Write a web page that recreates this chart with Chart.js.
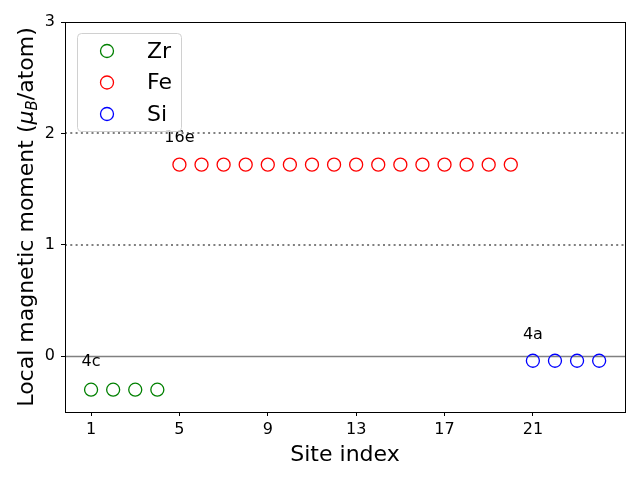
<!DOCTYPE html>
<html>
<head>
<meta charset="utf-8">
<script src="https://cdn.jsdelivr.net/npm/chart.js@4"></script>
<style>
  html, body { margin: 0; padding: 0; background: #fff; }
  #wrap { width: 640px; height: 480px; }
</style>
</head>
<body>
<div id="wrap"><canvas id="moments" width="640" height="480"></canvas></div>
<script>
'use strict';
//****************************
// DATA
//****************************
var zrSites = [1, 2, 3, 4];
var zrMoments = [-0.3, -0.3, -0.3, -0.3];
var feSites = [5, 6, 7, 8, 9, 10, 11, 12, 13, 14, 15, 16, 17, 18, 19, 20];
var feMoments = [1.72, 1.72, 1.72, 1.72, 1.72, 1.72, 1.72, 1.72, 1.72, 1.72, 1.72, 1.72, 1.72, 1.72, 1.72, 1.72];
var siSites = [21, 22, 23, 24];
var siMoments = [-0.04, -0.04, -0.04, -0.04];
var xTicks = [1, 5, 9, 13, 17, 21];
var yTicks = [0, 1, 2, 3];
var wyckoff = ['4c', '16e', '4a'];
var wyckoffX = [1, 5, 21];
var wyckoffY = [-0.05, 1.96, 0.19];
var dottedLevels = [1, 2];

var FONT = '"DejaVu Sans", sans-serif';

function toPoints(xs, ys) {
  var pts = [];
  for (var i = 0; i < xs.length; i++) {
    pts.push({ x: xs[i], y: ys[i] });
  }
  return pts;
}

function series(label, xs, ys, color) {
  return {
    label: label,
    data: toPoints(xs, ys),
    borderColor: color,
    backgroundColor: 'rgba(0,0,0,0)',
    pointRadius: 6.5,
    pointHoverRadius: 6.5,
    pointBorderWidth: 1.3,
    pointStyle: 'circle'
  };
}

// reference lines behind the markers
var refLines = {
  id: 'refLines',
  beforeDatasetsDraw: function(chart) {
    var ctx = chart.ctx;
    var area = chart.chartArea;
    var y = chart.scales.y;
    ctx.save();
    ctx.strokeStyle = '#808080';
    ctx.lineWidth = 2;
    ctx.setLineDash([2, 3.3]);
    for (var i = 0; i < dottedLevels.length; i++) {
      var py = Math.round(y.getPixelForValue(dottedLevels[i]));
      ctx.beginPath();
      ctx.moveTo(area.left, py);
      ctx.lineTo(area.right, py);
      ctx.stroke();
    }
    ctx.setLineDash([]);
    ctx.lineWidth = 1.5;
    var p0 = Math.round(y.getPixelForValue(0)) + 0.5;
    ctx.beginPath();
    ctx.moveTo(area.left, p0);
    ctx.lineTo(area.right, p0);
    ctx.stroke();
    ctx.restore();
  }
};

// frame, labels, titles and legend on top
var decorations = {
  id: 'decorations',
  afterDraw: function(chart) {
    var ctx = chart.ctx;
    var area = chart.chartArea;
    var xs = chart.scales.x;
    var ys = chart.scales.y;
    ctx.save();

    // frame
    ctx.strokeStyle = '#000';
    ctx.lineWidth = 1;
    ctx.strokeRect(Math.round(area.left) + 0.5, Math.round(area.top) + 0.5,
      Math.round(area.right - area.left), Math.round(area.bottom - area.top));

    // site labels
    ctx.fillStyle = '#000';
    ctx.font = '16px ' + FONT;
    ctx.textAlign = 'center';
    ctx.textBaseline = 'middle';
    for (var i = 0; i < wyckoff.length; i++) {
      ctx.fillText(wyckoff[i], xs.getPixelForValue(wyckoffX[i]), ys.getPixelForValue(wyckoffY[i]));
    }

    // x title
    ctx.font = '22px ' + FONT;
    ctx.textBaseline = 'alphabetic';
    ctx.fillText('Site index', (area.left + area.right) / 2, 461);

    // y title with subscript
    var cy = (area.top + area.bottom) / 2;
    ctx.translate(33, cy);
    ctx.rotate(-Math.PI / 2);
    var parts = [
      { t: 'Local magnetic moment (', f: '22px ' + FONT, dy: 0 },
      { t: '\u03bc', f: 'italic 22px ' + FONT, dy: 0 },
      { t: 'B', f: 'italic 15px ' + FONT, dy: 4 },
      { t: '/atom)', f: '22px ' + FONT, dy: 0 }
    ];
    var total = 0;
    for (var j = 0; j < parts.length; j++) {
      ctx.font = parts[j].f;
      parts[j].w = ctx.measureText(parts[j].t).width;
      total += parts[j].w;
    }
    var px = -total / 2;
    ctx.textAlign = 'left';
    for (var k = 0; k < parts.length; k++) {
      ctx.font = parts[k].f;
      ctx.fillText(parts[k].t, px, parts[k].dy);
      px += parts[k].w;
    }
    ctx.setTransform(1, 0, 0, 1, 0, 0);

    // legend
    var lx = 77.5, ly = 33.5, lw = 104, lh = 98, r = 4;
    ctx.fillStyle = 'rgba(255,255,255,0.8)';
    ctx.strokeStyle = '#d0d0d0';
    ctx.lineWidth = 1;
    ctx.beginPath();
    ctx.moveTo(lx + r, ly);
    ctx.arcTo(lx + lw, ly, lx + lw, ly + lh, r);
    ctx.arcTo(lx + lw, ly + lh, lx, ly + lh, r);
    ctx.arcTo(lx, ly + lh, lx, ly, r);
    ctx.arcTo(lx, ly, lx + lw, ly, r);
    ctx.closePath();
    ctx.fill();
    ctx.stroke();
    ctx.font = '22px ' + FONT;
    ctx.textBaseline = 'middle';
    ctx.textAlign = 'left';
    var sets = chart.data.datasets;
    for (var m = 0; m < sets.length; m++) {
      var rowY = 51 + m * 31.5;
      ctx.strokeStyle = sets[m].borderColor;
      ctx.lineWidth = 1.3;
      ctx.beginPath();
      ctx.arc(107, rowY, 6.5, 0, Math.PI * 2);
      ctx.stroke();
      ctx.fillStyle = '#000';
      ctx.fillText(sets[m].label, 147, rowY + 1);
    }
    ctx.restore();
  }
};

var ctx = document.getElementById('moments').getContext('2d');
var chart = new Chart(ctx, {
  type: 'scatter',
  data: {
    datasets: [
      series('Zr', zrSites, zrMoments, 'green'),
      series('Fe', feSites, feMoments, 'red'),
      series('Si', siSites, siMoments, 'blue')
    ]
  },
  options: {
    responsive: false,
    animation: false,
    events: [],
    layout: { padding: { left: 0, right: 15, top: 22, bottom: 0 } },
    plugins: {
      legend: { display: false },
      tooltip: { enabled: false }
    },
    scales: {
      x: {
        type: 'linear',
        min: -0.18,
        max: 25.17,
        afterBuildTicks: function(axis) {
          axis.ticks = xTicks.map(function(v) { return { value: v }; });
        },
        afterFit: function(axis) { axis.height = 68; },
        grid: { drawOnChartArea: false, drawTicks: true, tickLength: 4, tickColor: '#000', tickWidth: 1 },
        border: { display: false },
        ticks: { color: '#000', padding: 4, maxRotation: 0, font: { family: FONT, size: 16 } }
      },
      y: {
        type: 'linear',
        min: -0.5,
        max: 3,
        afterBuildTicks: function(axis) {
          axis.ticks = yTicks.map(function(v) { return { value: v }; });
        },
        afterFit: function(axis) { axis.width = 65; },
        grid: { drawOnChartArea: false, drawTicks: true, tickLength: 4, tickColor: '#000', tickWidth: 1 },
        border: { display: false },
        ticks: { color: '#000', padding: 6, font: { family: FONT, size: 16 } }
      }
    }
  },
  plugins: [refLines, decorations]
});
</script>
</body>
</html>
